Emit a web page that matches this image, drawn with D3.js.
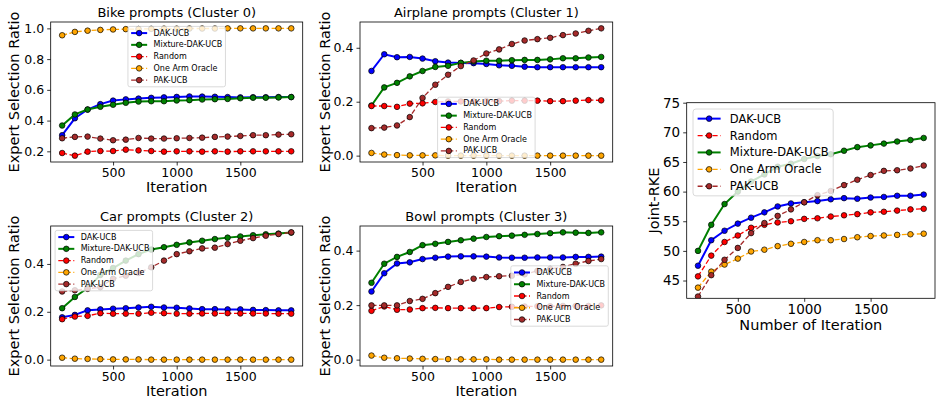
<!DOCTYPE html>
<html>
<head>
<meta charset="utf-8">
<script src="https://cdn.jsdelivr.net/npm/d3@7"></script>
<style>
  body { margin: 0; background: #fff; }
  svg { display: block; font-family: "DejaVu Sans", sans-serif; }
</style>
</head>
<body>
<svg width="936" height="400"></svg>
<script>
// iterations
const iters = [100, 200, 300, 400, 500, 600, 700, 800, 900, 1000, 1100, 1200, 1300, 1400, 1500, 1600, 1700, 1800, 1900];
const itersRke = [200, 300, 400, 500, 600, 700, 800, 900, 1000, 1100, 1200, 1300, 1400, 1500, 1600, 1700, 1800, 1900];
const xTicks = [500, 1000, 1500];

// Bike prompts (Cluster 0)
const bikeDak = [0.305, 0.415, 0.472, 0.507, 0.530, 0.538, 0.543, 0.548, 0.551, 0.554, 0.557, 0.556, 0.555, 0.553, 0.551, 0.552, 0.552, 0.553, 0.553];
const bikeMix = [0.368, 0.440, 0.472, 0.490, 0.503, 0.516, 0.524, 0.526, 0.526, 0.531, 0.533, 0.537, 0.539, 0.541, 0.545, 0.549, 0.549, 0.551, 0.553];
const bikeRand = [0.189, 0.172, 0.198, 0.202, 0.202, 0.211, 0.206, 0.202, 0.198, 0.200, 0.200, 0.198, 0.200, 0.198, 0.200, 0.200, 0.200, 0.200, 0.200];
const bikeOracle = [0.955, 0.977, 0.985, 0.990, 0.993, 0.995, 0.996, 0.997, 0.998, 0.998, 0.999, 0.999, 0.999, 1, 1, 1, 1, 1, 1];
const bikePak = [0.285, 0.294, 0.296, 0.283, 0.272, 0.276, 0.287, 0.283, 0.283, 0.285, 0.287, 0.289, 0.294, 0.296, 0.300, 0.305, 0.305, 0.309, 0.311];

// Airplane prompts (Cluster 1)
const airDak = [0.314, 0.376, 0.365, 0.366, 0.360, 0.350, 0.345, 0.344, 0.343, 0.340, 0.335, 0.333, 0.330, 0.328, 0.328, 0.328, 0.328, 0.328, 0.328];
const airMix = [0.186, 0.253, 0.270, 0.294, 0.314, 0.329, 0.333, 0.344, 0.349, 0.352, 0.352, 0.354, 0.355, 0.355, 0.357, 0.361, 0.361, 0.364, 0.366];
const airRand = [0.184, 0.184, 0.181, 0.193, 0.194, 0.199, 0.201, 0.201, 0.201, 0.202, 0.202, 0.204, 0.204, 0.204, 0.202, 0.202, 0.204, 0.206, 0.205];
const airOracle = [0.010, 0.004, 0.002, 0.001, 0.001, 0.001, 0, 0, 0, 0, 0, 0, 0, 0, 0, 0, 0, 0, 0];
const airPak = [0.102, 0.104, 0.112, 0.143, 0.214, 0.263, 0.300, 0.332, 0.353, 0.379, 0.394, 0.414, 0.427, 0.432, 0.437, 0.447, 0.453, 0.463, 0.472];

// Car prompts (Cluster 2)
const carDak = [0.177, 0.187, 0.206, 0.210, 0.213, 0.215, 0.218, 0.221, 0.218, 0.217, 0.214, 0.211, 0.211, 0.210, 0.210, 0.208, 0.207, 0.206, 0.206];
const carMix = [0.215, 0.262, 0.299, 0.354, 0.383, 0.414, 0.441, 0.460, 0.470, 0.480, 0.490, 0.497, 0.504, 0.510, 0.515, 0.520, 0.524, 0.527, 0.531];
const carRand = [0.169, 0.180, 0.183, 0.194, 0.192, 0.192, 0.192, 0.196, 0.194, 0.192, 0.192, 0.193, 0.193, 0.194, 0.193, 0.193, 0.193, 0.192, 0.192];
const carOracle = [0.008, 0.004, 0.003, 0.002, 0.001, 0.001, 0.001, 0, 0, 0, 0, 0, 0, 0, 0, 0, 0, 0, 0];
const carPak = [0.285, 0.290, 0.296, 0.303, 0.338, 0.351, 0.362, 0.386, 0.414, 0.441, 0.453, 0.465, 0.468, 0.483, 0.497, 0.508, 0.518, 0.525, 0.532];

// Bowl prompts (Cluster 3)
const bowlDak = [0.250, 0.317, 0.353, 0.357, 0.369, 0.374, 0.378, 0.379, 0.379, 0.378, 0.375, 0.374, 0.374, 0.375, 0.375, 0.375, 0.377, 0.377, 0.378];
const bowlMix = [0.282, 0.352, 0.377, 0.395, 0.420, 0.425, 0.432, 0.438, 0.444, 0.450, 0.453, 0.455, 0.458, 0.461, 0.464, 0.467, 0.466, 0.465, 0.467];
const bowlRand = [0.179, 0.195, 0.183, 0.184, 0.189, 0.190, 0.189, 0.189, 0.189, 0.189, 0.193, 0.194, 0.195, 0.196, 0.196, 0.197, 0.197, 0.197, 0.199];
const bowlOracle = [0.015, 0.007, 0.005, 0.004, 0.003, 0.002, 0.002, 0.001, 0.001, 0.001, 0, 0, 0, 0, 0, 0, 0, 0, 0];
const bowlPak = [0.199, 0.199, 0.199, 0.215, 0.223, 0.244, 0.267, 0.285, 0.297, 0.303, 0.306, 0.308, 0.313, 0.326, 0.333, 0.340, 0.352, 0.362, 0.369];

// Joint-RKE
const rkeDak = [47.5, 51.8, 53.4, 54.6, 55.6, 56.5, 57.5, 58.0, 58.2, 58.4, 58.7, 58.9, 58.8, 59.0, 59.1, 59.3, 59.3, 59.5];
const rkeRand = [45.7, 49.2, 51.5, 52.6, 53.9, 54.4, 54.8, 55.0, 55.4, 55.5, 55.8, 56.0, 56.2, 56.5, 56.6, 56.8, 57.0, 57.1];
const rkeMix = [50.0, 54.4, 57.9, 60.0, 61.7, 62.9, 64.2, 64.7, 65.5, 66.0, 66.3, 66.9, 67.5, 67.8, 68.1, 68.45, 68.7, 69.05];
const rkeOracle = [43.8, 46.5, 47.7, 48.7, 49.9, 50.2, 50.8, 51.2, 51.5, 51.8, 51.8, 52.0, 52.3, 52.5, 52.6, 52.7, 52.8, 52.9];
const rkePak = [42.3, 45.9, 48.5, 50.5, 53.0, 54.7, 55.9, 57.0, 58.2, 59.4, 60.1, 61.1, 62.0, 62.8, 63.5, 63.6, 63.9, 64.4];
const rkeYTicks = [45, 50, 55, 60, 65, 70, 75];

// styles per method
const styles = {
  'DAK-UCB':         { color: 'blue',   dash: null },
  'Mixture-DAK-UCB': { color: 'green',  dash: null },
  'Random':          { color: 'red',    dash: '5,2.5' },
  'One Arm Oracle':  { color: 'orange', dash: '5,2.5' },
  'PAK-UCB':         { color: 'brown',  dash: '5,2.5' }
};

const svg = d3.select('svg');

// matplotlib-like auto limits (5% margin)
function autoDomain(arrs) {
  const lo = d3.min(arrs, a => d3.min(a)), hi = d3.max(arrs, a => d3.max(a));
  const m = (hi - lo) * 0.05;
  return [lo - m, hi + m];
}

const panels = [
  { title: 'Bike prompts (Cluster 0)', left: 50.7, right: 302.7, top: 22, bottom: 162,
    xs: iters, xDomain: [10, 1990], yTicks: [0.2, 0.4, 0.6, 0.8, 1.0], fmt: d3.format('.1f'),
    series: [['DAK-UCB', bikeDak], ['Mixture-DAK-UCB', bikeMix], ['Random', bikeRand], ['One Arm Oracle', bikeOracle], ['PAK-UCB', bikePak]],
    xLabel: 'Iteration', yLabel: 'Expert Selection Ratio', yLabelX: 14,
    legend: { loc: 'upper center', fs: 8 } },
  { title: 'Airplane prompts (Cluster 1)', left: 360, right: 612.7, top: 22, bottom: 162,
    xs: iters, xDomain: [10, 1990], yTicks: [0, 0.2, 0.4], fmt: d3.format('.1f'),
    series: [['DAK-UCB', airDak], ['Mixture-DAK-UCB', airMix], ['Random', airRand], ['One Arm Oracle', airOracle], ['PAK-UCB', airPak]],
    xLabel: 'Iteration', yLabel: 'Expert Selection Ratio', yLabelX: 325,
    legend: { loc: 'lower center', fs: 8 } },
  { title: 'Car prompts (Cluster 2)', left: 50.7, right: 302.7, top: 226, bottom: 366,
    xs: iters, xDomain: [10, 1990], yTicks: [0, 0.2, 0.4], fmt: d3.format('.1f'),
    series: [['DAK-UCB', carDak], ['Mixture-DAK-UCB', carMix], ['Random', carRand], ['One Arm Oracle', carOracle], ['PAK-UCB', carPak]],
    xLabel: 'Iteration', yLabel: 'Expert Selection Ratio', yLabelX: 14,
    legend: { loc: 'upper left', fs: 8 } },
  { title: 'Bowl prompts (Cluster 3)', left: 360, right: 612.7, top: 226, bottom: 366,
    xs: iters, xDomain: [10, 1990], yTicks: [0, 0.2, 0.4], fmt: d3.format('.1f'),
    series: [['DAK-UCB', bowlDak], ['Mixture-DAK-UCB', bowlMix], ['Random', bowlRand], ['One Arm Oracle', bowlOracle], ['PAK-UCB', bowlPak]],
    xLabel: 'Iteration', yLabel: 'Expert Selection Ratio', yLabelX: 325,
    legend: { loc: 'center right', fs: 8 } },
  { title: null, left: 686.7, right: 935, top: 102.7, bottom: 298.3,
    xs: itersRke, xDomain: [115, 1985], yDomain: [42, 75], yTicks: rkeYTicks, fmt: d3.format('d'),
    series: [['DAK-UCB', rkeDak], ['Random', rkeRand], ['Mixture-DAK-UCB', rkeMix], ['One Arm Oracle', rkeOracle], ['PAK-UCB', rkePak]],
    xLabel: 'Number of Iteration', yLabel: 'Joint-RKE', yLabelX: 654,
    legend: { loc: 'upper left', fs: 11.5 }, big: true }
];

panels.forEach((p, pi) => {
  const g = svg.append('g');
  const x = d3.scaleLinear().domain(p.xDomain).range([p.left, p.right]);
  const yDom = p.yDomain || autoDomain(p.series.map(s => s[1]));
  const y = d3.scaleLinear().domain(yDom).range([p.bottom, p.top]);
  const tickFs = p.big ? 13.5 : 12.5;
  const lw = 2, lwDash = 1.3, r = 2.8;

  g.append('clipPath').attr('id', 'clip' + pi)
    .append('rect').attr('x', p.left).attr('y', p.top)
    .attr('width', p.right - p.left).attr('height', p.bottom - p.top);

  const plot = g.append('g').attr('clip-path', `url(#clip${pi})`);
  const line = d3.line().x((d, i) => x(p.xs[i])).y(d => y(d));

  p.series.forEach(([name, vals]) => {
    const st = styles[name];
    plot.append('path')
      .attr('d', line(vals))
      .attr('fill', 'none')
      .attr('stroke', st.color)
      .attr('stroke-width', st.dash ? lwDash : lw)
      .attr('stroke-dasharray', st.dash);
    plot.selectAll(null).data(vals).enter().append('circle')
      .attr('cx', (d, i) => x(p.xs[i]))
      .attr('cy', d => y(d))
      .attr('r', r)
      .attr('fill', st.color)
      .attr('stroke', '#000')
      .attr('stroke-width', 0.7);
  });

  // axes
  const xAxis = g.append('g').attr('transform', `translate(0,${p.bottom})`)
    .call(d3.axisBottom(x).tickValues(xTicks).tickFormat(d3.format('d')).tickSize(3.5).tickPadding(3));
  const yAxis = g.append('g').attr('transform', `translate(${p.left},0)`)
    .call(d3.axisLeft(y).tickValues(p.yTicks).tickFormat(p.fmt).tickSize(3.5).tickPadding(3));
  [xAxis, yAxis].forEach(a => {
    a.select('.domain').remove();
    a.selectAll('line').attr('stroke', '#000').attr('stroke-width', 0.8);
    a.selectAll('text').attr('fill', '#000').style('font-size', tickFs + 'px')
      .style('font-family', '"DejaVu Sans", sans-serif');
  });

  g.append('rect')
    .attr('x', p.left).attr('y', p.top)
    .attr('width', p.right - p.left).attr('height', p.bottom - p.top)
    .attr('fill', 'none').attr('stroke', '#000').attr('stroke-width', 0.8);

  const cx = (p.left + p.right) / 2, cy = (p.top + p.bottom) / 2;
  if (p.title) {
    g.append('text').attr('x', cx).attr('y', p.top - 5)
      .attr('text-anchor', 'middle').style('font-size', '13px').text(p.title);
  }
  g.append('text').attr('x', cx).attr('y', p.bottom + (p.big ? 32 : 30))
    .attr('text-anchor', 'middle').style('font-size', '14.5px').text(p.xLabel);
  g.append('text')
    .attr('transform', `translate(${p.yLabelX},${cy}) rotate(-90)`)
    .attr('text-anchor', 'middle').attr('dominant-baseline', 'central')
    .style('font-size', '14.5px').text(p.yLabel);

  drawLegend(g, p);
});

function drawLegend(g, p) {
  const fs = p.legend.fs, loc = p.legend.loc;
  const lg = g.append('g');
  const box = lg.append('rect');
  const texts = p.series.map(s => lg.append('text').style('font-size', fs + 'px')
    .attr('dominant-baseline', 'central').text(s[0]));
  const tw = d3.max(texts, t => t.node().getComputedTextLength());
  const w = tw + fs * 3.6, rowH = fs * 1.47, h = rowH * p.series.length + fs * 0.2;
  const off = fs * 0.55;
  let bx, by;
  if (loc === 'upper center') { bx = (p.left + p.right - w) / 2; by = p.top + off; }
  if (loc === 'lower center') { bx = (p.left + p.right - w) / 2; by = p.bottom - off - h; }
  if (loc === 'upper left') { bx = p.left + off; by = p.top + off; }
  if (loc === 'center right') { bx = p.right - off - w; by = (p.top + p.bottom - h) / 2; }
  box.attr('x', bx).attr('y', by).attr('width', w).attr('height', h)
    .attr('rx', fs * 0.25)
    .attr('fill', '#fff').attr('fill-opacity', 0.8)
    .attr('stroke', '#d0d0d0').attr('stroke-width', 0.8);
  p.series.forEach(([name], i) => {
    const st = styles[name];
    const ry = by + fs * 0.1 + rowH * (i + 0.5);
    const x0 = bx + fs * 0.4, x1 = x0 + fs * 2;
    lg.append('line').attr('x1', x0).attr('x2', x1).attr('y1', ry).attr('y2', ry)
      .attr('stroke', st.color).attr('stroke-width', st.dash ? 1.3 : 2)
      .attr('stroke-dasharray', st.dash);
    lg.append('circle').attr('cx', (x0 + x1) / 2).attr('cy', ry).attr('r', 2.8)
      .attr('fill', st.color).attr('stroke', '#000').attr('stroke-width', 0.7);
    texts[i].attr('x', x1 + fs * 0.8).attr('y', ry).raise();
  });
}
</script>
</body>
</html>
